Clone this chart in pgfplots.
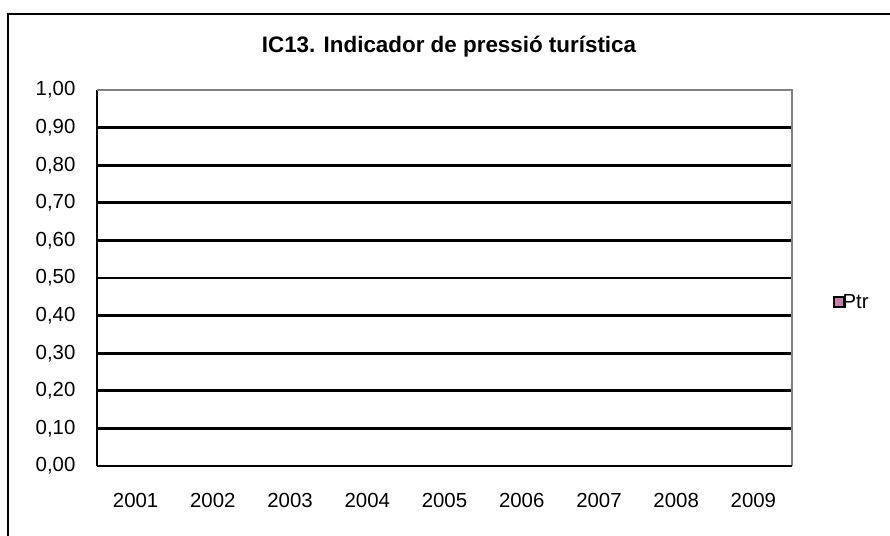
\documentclass[border=0pt]{standalone}
\usepackage{pgfplots}
\pgfplotsset{compat=1.18}
\usepackage{fontspec}
\setmainfont{Liberation Sans}
\definecolor{ptrpink}{HTML}{C080A8}
\definecolor{bordergray}{HTML}{808080}
\begin{document}
\begin{tikzpicture}[x=0.75pt,y=-0.75pt]
\useasboundingbox (0,0) rectangle (890,536);
\draw[line width=1.75pt, line cap=rect] (8,536) -- (8,14) -- (890,14);
\node[font=\fontsize{16.8}{19}\selectfont\bfseries] at (449,47) {IC13. Indicador de pressió turística};
\coordinate (SW) at (97,466);
\begin{axis}[
  at={(SW)}, anchor=south west,
  scale only axis,
  width=521.25pt, height=282pt,
  xmin=-0.5, xmax=8.5, ymin=0, ymax=1,
  xtick={0,1,2,3,4,5,6,7,8},
  xticklabels={2001,2002,2003,2004,2005,2006,2007,2008,2009},
  ytick={0,0.1,0.2,0.3,0.4,0.5,0.6,0.7,0.8,0.9,1.0},
  /pgf/number format/fixed, /pgf/number format/fixed zerofill,
  /pgf/number format/precision=2, /pgf/number format/use comma,
  /pgf/number format/assume math mode=true,
  major tick length=0pt,
  axis x line*=bottom, axis y line*=left,
  axis line style={line width=2pt, black, -},
  ymajorgrids, major grid style={line width=2pt, black},
  tick label style={font=\fontsize{15.3}{18}\selectfont},
  yticklabel style={anchor=east, inner sep=0pt, xshift=-16pt},
  xticklabel style={anchor=north, inner sep=0pt, yshift=-20pt},
  ybar, bar width=30pt,
  legend style={at={(1.059,0.436)}, anchor=west, draw=none, fill=none, font=\fontsize{15.3}{18}\selectfont, inner sep=0pt},
  legend image code/.code={\draw[fill=ptrpink, draw=black, line width=1.5pt] (0pt,-3.75pt) rectangle (7.5pt,3.75pt);},
  legend cell align=left,
  clip=false,
]
\addplot[fill=ptrpink, draw=none] coordinates {(0,0) (1,0) (2,0) (3,0) (4,0) (5,0) (6,0) (7,0) (8,0)};
\addlegendentry{\hspace{-4pt}Ptr}
\draw[bordergray, line width=2pt] (rel axis cs:0,1) -- (rel axis cs:1,1) -- (rel axis cs:1,0);
\draw[black, line width=2pt] (rel axis cs:0,0) -- (rel axis cs:1,0);
\end{axis}
\end{tikzpicture}
\end{document}
